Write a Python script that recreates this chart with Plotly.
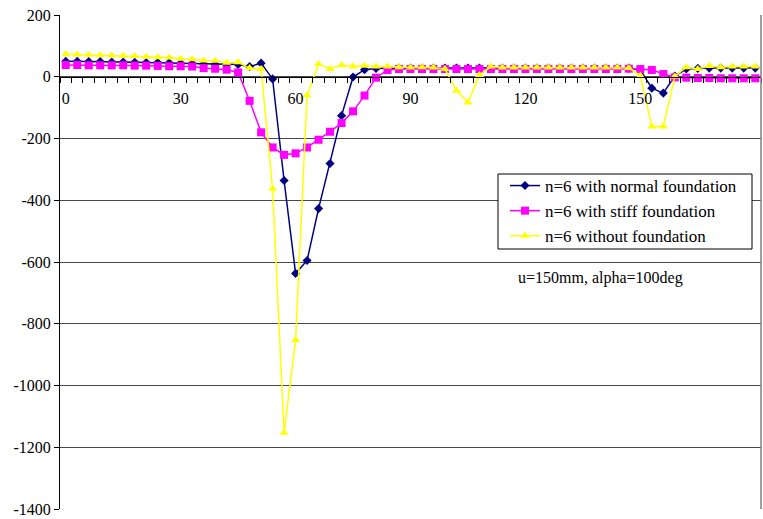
import plotly.graph_objects as go

angles = list(range(0, 181, 3))

normal = [50, 50, 49, 49, 48, 48, 47, 46, 46, 45,
          44, 43, 41, 40, 39, 40, 33, 44, -7, -336,
          -637, -595, -427, -281, -126, -1, 23, 27, 28, 28,
          28, 28, 28, 28, 28, 28, 28, 28, 28, 28,
          28, 28, 28, 28, 28, 28, 28, 28, 28, 28,
          22, -37, -53, 2, 25, 27, 28, 28, 28, 28, 28]

stiff = [38, 38, 37, 37, 37, 37, 36, 36, 35, 34,
         34, 33, 28, 26, 23, 14, -78, -180, -229, -253,
         -248, -229, -204, -178, -150, -112, -61, -3, 22, 25,
         25, 25, 25, 25, 25, 25, 25, 25, 25, 25,
         25, 25, 25, 25, 25, 25, 25, 25, 25, 26,
         25, 22, 9, -2, -3, -4, -4, -5, -5, -5, -5]

without = [73, 72, 71, 70, 69, 68, 67, 65, 63, 62,
           58, 57, 53, 52, 45, 47, 28, 25, -363, -1153,
           -853, -60, 41, 25, 38, 33, 36, 33, 33, 31,
           30, 31, 30, 25, -45, -83, 6, 33, 30, 30,
           30, 30, 30, 30, 30, 30, 30, 30, 30, 28,
           3, -161, -161, 1, 31, 25, 35, 31, 33, 33, 33]

y_tick_vals = [200, 0, -200, -400, -600, -800, -1000, -1200, -1400]
y_tick_text = ["200", "0", "-200", "-400", "-600", "-800", "-1000", "-1200", "-1400"]
x_tick_vals = [0, 30, 60, 90, 120, 150, 180]

names = ["n=6 with normal foundation", "n=6 with stiff foundation", "n=6 without foundation"]
colors = ["#000080", "#FF00FF", "#FFFF00"]
symbols = ["diamond", "square", "triangle-up"]
sizes = [7, 8, 8]

FONT = "Liberation Serif"

fig = go.Figure()
for ys, nm, c, s, sz in zip([normal, stiff, without], names, colors, symbols, sizes):
    fig.add_trace(go.Scatter(
        x=angles, y=ys, name=nm, mode="lines+markers",
        line=dict(color=c, width=1.5),
        marker=dict(color=c, symbol=s, size=sz, line=dict(width=0)),
    ))

# plot area: x 60..761 px, y 15..509 px
def px(xp):
    return (xp - 60) / 701.0

def py(yp):
    return 1 - (yp - 15) / 494.0

fig.update_layout(
    width=763, height=519,
    margin=dict(l=60, r=2, t=15, b=10),
    plot_bgcolor="white", paper_bgcolor="white",
    font=dict(family=FONT, size=16, color="black"),
    showlegend=True,
    legend=dict(
        x=px(505), y=py(168), xanchor="left", yanchor="top",
        borderwidth=0, bgcolor="rgba(0,0,0,0)",
        font=dict(family=FONT, size=17),
    ),
    xaxis=dict(
        range=[-1.5, 181.5], tickmode="array", tickvals=x_tick_vals,
        ticks="outside", ticklen=7, tickcolor="rgba(0,0,0,0)",
        showgrid=False, zeroline=False,
        showline=True, linecolor="black", linewidth=1,
        anchor="free", position=0.875,
        minor=dict(ticks="outside", tick0=-1.5, dtick=3, ticklen=5,
                   tickcolor="black", showgrid=False),
    ),
    yaxis=dict(
        range=[-1400, 200], tickmode="array", tickvals=y_tick_vals, ticktext=y_tick_text,
        ticks="outside", ticklen=5, tickcolor="black",
        showgrid=True, gridcolor="#484848", gridwidth=1,
        zeroline=False, showline=True, linecolor="black", linewidth=1,
    ),
    annotations=[dict(
        x=px(516), y=py(278), xref="paper", yref="paper", xanchor="left", yanchor="middle",
        text="u=150mm, alpha=100deg", showarrow=False,
        font=dict(family=FONT, size=16),
    )],
    shapes=[
        dict(type="line", xref="paper", yref="paper", x0=1, x1=1, y0=0, y1=1,
             line=dict(color="#808080", width=1.5)),
        dict(type="rect", xref="paper", yref="paper", layer="above",
             x0=px(498), x1=px(752), y0=py(249), y1=py(174),
             fillcolor="white", line=dict(color="black", width=1)),
    ],
)

fig.write_html("out.html")
